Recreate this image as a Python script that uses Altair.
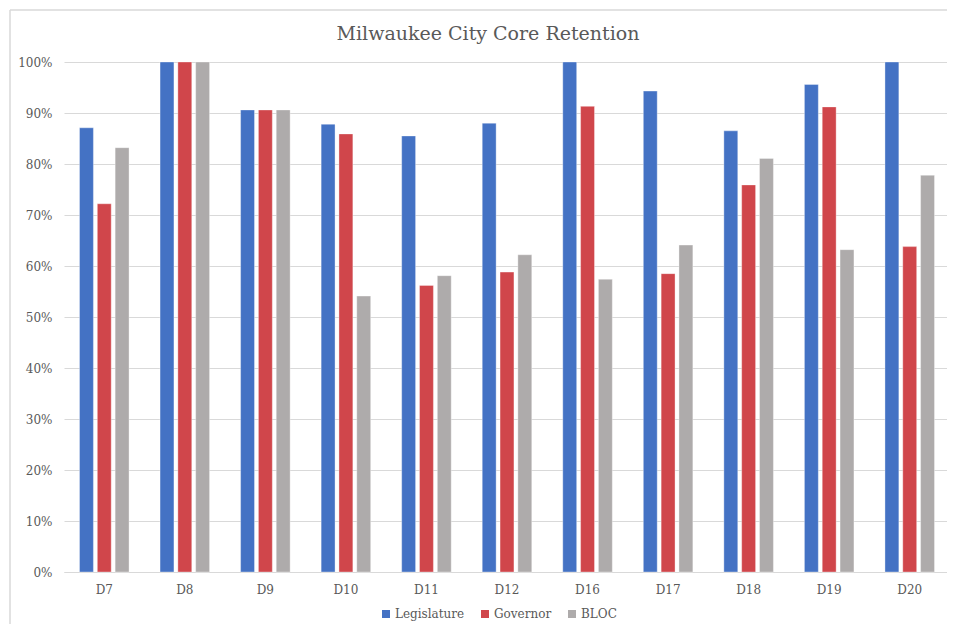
import altair as alt
import pandas as pd

districts = ["D7", "D8", "D9", "D10", "D11", "D12", "D16", "D17", "D18", "D19", "D20"]
series = ["Legislature", "Governor", "BLOC"]
legislature = [87.1, 100.0, 90.6, 87.8, 85.5, 88.0, 100.0, 94.3, 86.5, 95.6, 100.0]
governor = [72.2, 100.0, 90.6, 85.9, 56.2, 58.8, 91.3, 58.5, 75.9, 91.2, 63.8]
bloc = [83.2, 100.0, 90.6, 54.1, 58.1, 62.2, 57.4, 64.1, 81.1, 63.2, 77.8]
colors = ["#4472C4", "#D0464B", "#AEABAB"]

rows = []
for name, vals in zip(series, [legislature, governor, bloc]):
    for d, v in zip(districts, vals):
        rows.append({"District": d, "Series": name, "Value": v / 100.0})
df = pd.DataFrame(rows)

FONT = "DejaVu Serif"
GREY = "#595959"
PAD_TOP = 54

bars = alt.Chart(df).mark_bar(stroke="white", strokeWidth=1, strokeOpacity=0.35).encode(
    x=alt.X("District:N", sort=districts, title=None,
            scale=alt.Scale(range=[1, 887], paddingInner=0.385, paddingOuter=0.1925),
            axis=alt.Axis(labelAngle=0, ticks=False, domain=True, domainColor="#d9d9d9",
                          labelPadding=12, labelFont=FONT, labelFontSize=12, labelColor=GREY)),
    xOffset=alt.XOffset("Series:N", sort=series, scale=alt.Scale(paddingInner=0.22)),
    y=alt.Y("Value:Q", title=None,
            scale=alt.Scale(domain=[0, 1], nice=False),
            axis=alt.Axis(format=".0%", values=[i / 10 for i in range(11)], ticks=False, domain=False,
                          gridColor="#d9d9d9", labelPadding=11, labelFont=FONT, labelFontSize=12,
                          labelColor=GREY)),
    color=alt.Color("Series:N", sort=series,
                    scale=alt.Scale(domain=series, range=colors),
                    legend=alt.Legend(title=None, orient="none", direction="horizontal",
                                      legendX=317, legendY=546, symbolType="square",
                                      symbolSize=64, symbolStrokeWidth=0, labelFont=FONT,
                                      labelFontSize=12, labelColor=GREY, columnPadding=14,
                                      labelOffset=3)),
)

one = pd.DataFrame({"a": [0]})
top_line = alt.Chart(one).mark_rule(color="#d9d9d9", strokeWidth=1.5).encode(
    x=alt.value(-53), x2=alt.value(884), y=alt.value(-52)
)
left_line = alt.Chart(one).mark_rule(color="#d9d9d9", strokeWidth=1.5).encode(
    x=alt.value(-53), y=alt.value(-52), y2=alt.value(562)
)

chart = alt.layer(top_line, left_line, bars).properties(
    width=882,
    height=510,
    background="white",
    autosize=alt.AutoSizeParams(type="none"),
    padding={"left": 55, "top": PAD_TOP, "right": 2, "bottom": 52},
    title=alt.TitleParams("Milwaukee City Core Retention", font=FONT, fontSize=19,
                          fontWeight="normal", color=GREY, anchor="middle", dx=-16,
                          offset=0, dy=35, frame="group"),
).configure_view(stroke=None)

chart.save("out.html", embed_options={"renderer": "svg", "actions": False})
